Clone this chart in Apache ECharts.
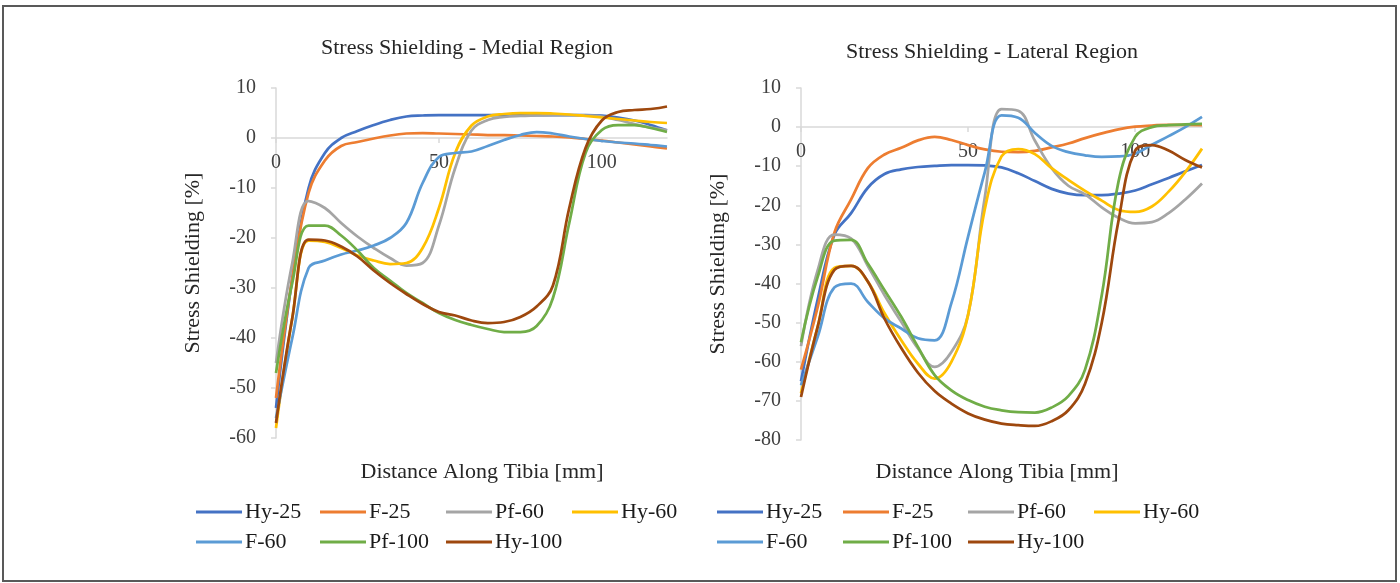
<!DOCTYPE html>
<html><head><meta charset="utf-8">
<script src="https://cdn.jsdelivr.net/npm/echarts@6/dist/echarts.min.js"></script>
<style>html,body{margin:0;padding:0;background:#fff}#c{width:1400px;height:583px}</style>
</head><body><div id="c"></div>
<script>
// Distance along tibia [mm]
const xs = [0,5,10,15,20,25,30,35,40,45,50,55,60,65,70,75,80,85,90,95,100,105,110,115,120];
const seriesNames = ['Hy-25','F-25','Pf-60','Hy-60','F-60','Pf-100','Hy-100'];
const colors = ['#4472C4','#ED7D31','#A5A5A5','#FFC000','#5B9BD5','#70AD47','#9E480E'];
const xTicks = [0,50,100];
const medialTicks = [10,0,-10,-20,-30,-40,-50,-60];
const lateralTicks = [10,0,-10,-20,-30,-40,-50,-60,-70,-80];

// Medial region stress shielding [%]
const medialHy25 = [-54,-28,-10,-3,0,1.4,2.6,3.6,4.3,4.5,4.6,4.6,4.6,4.6,4.6,4.6,4.6,4.6,4.6,4.6,4.5,4.1,3.5,2.6,1.5];
const medialF25 = [-52,-28,-11,-4.5,-1.6,-0.8,-0.1,0.5,0.9,1.0,0.9,0.8,0.7,0.6,0.6,0.5,0.4,0.3,0.1,-0.2,-0.5,-0.9,-1.3,-1.7,-2.1];
const medialPf60 = [-45,-25,-12.6,-14,-17,-19.7,-22,-24,-25.5,-25,-17.5,-6,1.5,3.6,4.2,4.4,4.5,4.6,4.6,4.5,4.3,3.6,2.8,2.1,1.6];
const medialHy60 = [-58,-36,-20.5,-20.8,-22,-23.5,-24.5,-25.2,-25,-22,-14,-3,2.5,4.3,4.8,5,5,4.9,4.7,4.4,4.1,3.8,3.5,3.2,3];
const medialF60 = [-56,-40,-26,-24.5,-23.3,-22.5,-21.5,-20,-17,-9,-3.8,-3,-2.7,-1.6,-0.4,0.6,1.2,0.9,0.3,-0.2,-0.6,-0.9,-1.1,-1.4,-1.7];
const medialPf100 = [-47,-29,-17.5,-17.5,-19.5,-22.5,-26,-28.5,-31,-33,-35,-36.4,-37.4,-38.2,-38.8,-38.8,-37.6,-32,-17,-3,1.6,2.6,2.6,2,1.2];
const medialHy100 = [-57,-36,-20.3,-20.5,-21.7,-23.7,-26.5,-29,-31.2,-33.2,-34.8,-35.5,-36.5,-37,-36.8,-35.8,-33.7,-29.5,-14,-2,3.5,5.2,5.6,5.8,6.3];

// Lateral region stress shielding [%]
const lateralHy25 = [-65,-44,-27.5,-22,-15.5,-12,-10.8,-10.2,-9.9,-9.7,-9.7,-9.8,-10.3,-11.8,-13.8,-15.8,-17,-17.4,-17.4,-17,-16.2,-14.6,-13,-11.3,-9.7];
const lateralF25 = [-62,-46,-27,-18.5,-10.5,-7,-5.3,-3.4,-2.5,-3.3,-4.6,-5.7,-6.3,-6.4,-6.1,-5.2,-4.2,-2.8,-1.6,-0.6,0.1,0.4,0.6,0.6,0.5];
const lateralPf60 = [-56,-36.6,-27.5,-28.5,-35.5,-43,-49.8,-56.6,-61.3,-57.5,-48,-18,4.6,4.2,-3.5,-10.5,-15,-17.2,-20.5,-23.2,-24.6,-24.3,-22,-18.5,-14.4];
const lateralHy60 = [-68,-51,-36,-35.5,-39.5,-47.6,-54.5,-60.5,-64.3,-60,-48,-21,-7.5,-5.6,-6.9,-10.5,-13.5,-16.3,-18.8,-21.2,-21.7,-20.3,-16.5,-11.5,-5.5];
const lateralF60 = [-66,-53.6,-41,-40,-44.7,-48.9,-51.5,-54,-54.5,-45,-28,-11.5,3,2.4,-1.5,-4.8,-6.4,-7.2,-7.6,-7.5,-6.8,-4.5,-2.3,0,2.6];
const lateralPf100 = [-55,-38.3,-29,-28.8,-34.9,-41.7,-48.5,-56.2,-63.4,-67.3,-69.8,-71.5,-72.4,-72.9,-73,-71.7,-68.8,-62,-43,-14,-2.5,0,0.5,0.7,0.8];
const lateralHy100 = [-69,-51,-36.5,-35.5,-39.5,-49,-56.5,-62.8,-67.5,-70.7,-73.2,-74.8,-75.8,-76.2,-76.4,-75.2,-72.4,-65.6,-50,-24,-6,-4.6,-6,-8.4,-10.3];

const medialTitle = 'Stress Shielding - Medial Region';
const lateralTitle = 'Stress Shielding - Lateral Region';
const xName = 'Distance Along Tibia [mm]';
const yName = 'Stress Shielding [%]';

const medialSets = [medialHy25, medialF25, medialPf60, medialHy60, medialF60, medialPf100, medialHy100];
const lateralSets = [lateralHy25, lateralF25, lateralPf60, lateralHy60, lateralF60, lateralPf100, lateralHy100];

const FONT = '"Liberation Serif","Times New Roman",serif';
const AX = '#d9d9d9';

const grids = [
  {left:276, top:88, width:391, height:350},
  {left:801, top:88, width:401, height:352}
];
const yMins = [-60, -80];
const yMax = 10;

function xAxis(gi){
  // put the x axis on the zero line of the value axis
  const off = -grids[gi].height * (0 - yMins[gi]) / (yMax - yMins[gi]);
  return {type:'value', gridIndex:gi, min:0, max:120, interval:50, position:'bottom', offset:off,
    axisLine:{onZero:false, lineStyle:{color:AX, width:1.5}},
    axisTick:{show:true, length:5, lineStyle:{color:AX, width:1.5}},
    axisLabel:{fontFamily:FONT, fontSize:20, color:'#404040', margin:15, showMaxLabel:false,
      formatter:v => xTicks.includes(v) ? String(v) : ''},
    splitLine:{show:false}};
}
function yAxis(gi, ticks){
  return {type:'value', gridIndex:gi, min:yMins[gi], max:yMax, interval:10,
    axisLine:{show:true, onZero:false, lineStyle:{color:AX, width:1.5}},
    axisTick:{show:true, length:5, lineStyle:{color:AX, width:1.5}},
    axisLabel:{fontFamily:FONT, fontSize:20, color:'#404040', margin:20,
      formatter:v => ticks.includes(v) ? String(v) : ''},
    splitLine:{show:false},
    name:yName, nameLocation:'middle', nameRotate:90, nameGap:72,
    nameTextStyle:{fontFamily:FONT, fontSize:22, color:'#262626'}};
}
function mkSeries(sets, gi){
  return sets.map((arr,i)=>({
    type:'line', name:seriesNames[i], xAxisIndex:gi, yAxisIndex:gi,
    data: xs.map((x,k)=>[x, arr[k]]), smooth:0.4, symbol:'none',
    lineStyle:{width:2.75, color:colors[i]}, itemStyle:{color:colors[i]}
  }));
}
function legendItem(name, left, top){
  return {data:[name], left:left, top:top, icon:'rect', padding:0,
    itemWidth:46, itemHeight:3, selectedMode:false,
    textStyle:{fontFamily:FONT, fontSize:22, color:'#1a1a1a', padding:[0,0,0,-2]}};
}
const legendCols = [[196,320,446,572],[717,843,968,1094]];
const legendRows = [501, 531];
const legends = [];
for (let c = 0; c < 2; c++) {
  seriesNames.forEach((n, i) => {
    const row = i < 4 ? 0 : 1, col = i < 4 ? i : i - 4;
    legends.push(legendItem(n, legendCols[c][col], legendRows[row]));
  });
}
const titleStyle = {fontFamily:FONT, fontSize:22, fontWeight:'normal', color:'#262626'};
const nameStyle = {fontFamily:FONT, fontSize:22, fontWeight:'normal', color:'#262626'};

const chart = echarts.init(document.getElementById('c'), null, {renderer:'canvas'});
chart.setOption({
  animation:false,
  backgroundColor:'#fff',
  color:colors,
  title:[
    {text:medialTitle, left:462, top:32, textAlign:'center', textStyle:titleStyle},
    {text:lateralTitle, left:987, top:36, textAlign:'center', textStyle:titleStyle},
    {text:xName, left:477, top:456, textAlign:'center', textStyle:nameStyle},
    {text:xName, left:992, top:456, textAlign:'center', textStyle:nameStyle}
  ],
  grid:grids.map(g => Object.assign({containLabel:false}, g)),
  xAxis:[xAxis(0), xAxis(1)],
  yAxis:[yAxis(0,medialTicks), yAxis(1,lateralTicks)],
  legend:legends,
  graphic:[{type:'rect', silent:true, shape:{x:3,y:6,width:1393,height:575},
    style:{fill:null, stroke:'#595959', lineWidth:2}}],
  series:[...mkSeries(medialSets,0), ...mkSeries(lateralSets,1)]
});
</script></body></html>
